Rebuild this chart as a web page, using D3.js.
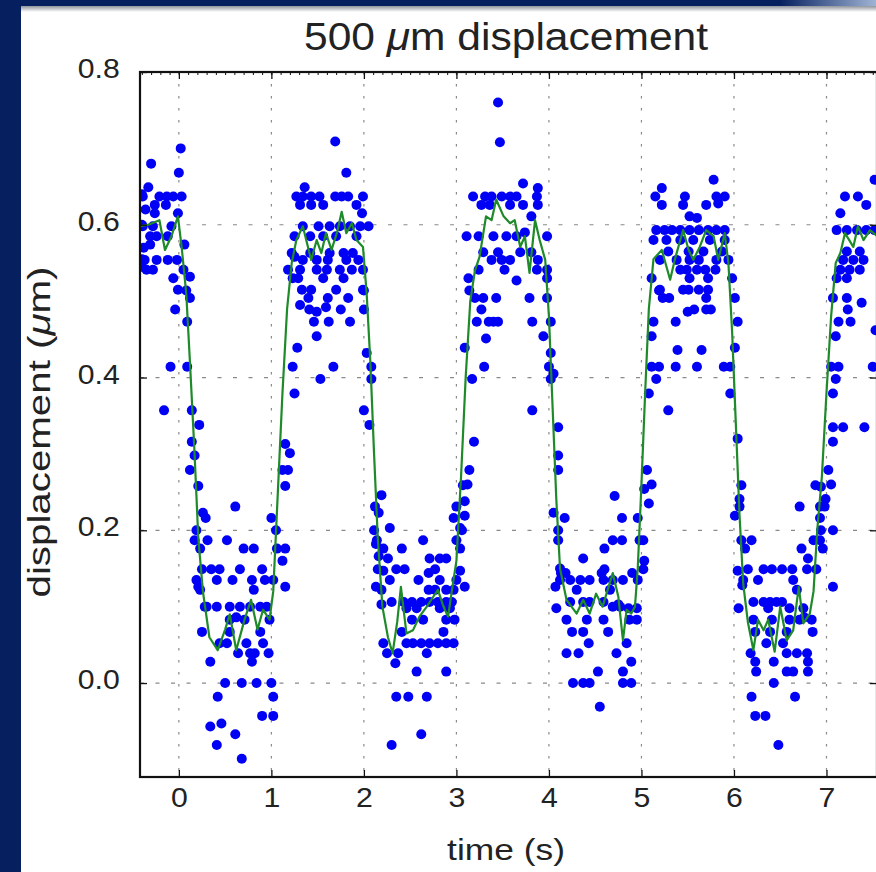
<!DOCTYPE html>
<html>
<head>
<meta charset="utf-8">
<script src="https://cdn.jsdelivr.net/npm/d3@7"></script>
<style>
  html, body { margin: 0; padding: 0; background: #06205f; }
  svg { display: block; }
  text { font-family: "Liberation Sans", Arial, sans-serif; fill: #222; }
</style>
</head>
<body>
<svg id="chart" width="876" height="872"></svg>
<script>
// axis ticks and labels
const xTicks = [0, 1, 2, 3, 4, 5, 6, 7];
const yTicks = [0.0, 0.2, 0.4, 0.6, 0.8];
const xLimits = [-0.42, 7.546];
const yLimits = [-0.123, 0.8];
const titleText = ["500 ", "\u03bc", "m displacement"];
const yLabelText = ["displacement (", "\u03bc", "m)"];
const xLabelText = "time (s)";

// measured displacement samples [time s, displacement um], read per cycle
const cycle1Dots = [
  [-0.30,0.68],[0.02,0.70],[0.00,0.668],[-0.33,0.649],[-0.39,0.637],[-0.21,0.637],[-0.13,0.637],[-0.06,0.637],
  [0.03,0.637],[-0.40,0.64],[-0.26,0.626],[-0.14,0.626],[-0.36,0.62],[-0.26,0.615],[-0.01,0.615],[-0.39,0.598],
  [-0.28,0.598],[-0.08,0.598],[-0.40,0.60],[-0.31,0.585],[-0.24,0.585],[-0.12,0.585],[-0.31,0.574],[0.06,0.574],
  [-0.38,0.57],[-0.37,0.554],[-0.24,0.554],[-0.12,0.554],[-0.02,0.554],[-0.40,0.555],[-0.35,0.541],[-0.28,0.541],
  [0.05,0.541],[-0.40,0.545],[-0.06,0.530],[0.12,0.532],[-0.01,0.515],[0.12,0.504],[0.08,0.514],
  [-0.04,0.489],[0.09,0.473],[-0.09,0.414],[0.09,0.414],[-0.16,0.357],[0.14,0.357],[0.22,0.338],[0.14,0.316],
  [0.17,0.298],[0.12,0.279],[0.26,0.223],[0.19,0.200],[0.21,0.126],
  [0.21,0.258],[0.29,0.216],[0.61,0.231],[0.17,0.187],[0.31,0.187],[0.52,0.187],[0.23,0.176],[0.70,0.176],
  [0.81,0.176],[1.00,0.216],[1.15,0.258],[1.06,0.176],[1.15,0.176],
  [0.25,0.149],[0.35,0.149],[0.44,0.149],[0.66,0.149],[0.90,0.149],
  [0.19,0.135],[0.41,0.135],[0.58,0.135],[0.79,0.135],[0.93,0.135],[1.02,0.135],[0.23,0.122],[0.81,0.122],
  [0.28,0.100],[0.30,0.100],[0.41,0.100],[0.55,0.100],[0.66,0.100],[0.77,0.100],[0.88,0.100],[0.95,0.100],
  [0.55,0.083],[0.71,0.083],[0.98,0.083],[0.62,0.086],[0.25,0.067],[0.55,0.067],[0.88,0.067],
  [0.44,0.052],[0.52,0.052],[0.73,0.052],[0.91,0.052],[0.64,0.039],[0.77,0.039],[0.82,0.039],[0.97,0.039],
  [0.79,0.028],[0.34,0.028],[0.50,0.0],[0.68,0.0],[0.84,0.0],[1.00,0.0],[0.42,-0.018],[1.02,-0.018],
  [0.90,-0.043],[1.02,-0.043],[0.34,-0.057],[0.46,-0.053],[0.61,-0.067],[0.41,-0.081],[0.68,-0.099],
  [1.05,0.200],[1.12,0.160],[1.15,0.126],[1.12,0.279],[1.18,0.279],[1.20,0.301],[1.15,0.313],[1.23,0.414],
  [1.25,0.379],[1.28,0.439],[1.23,0.530],[1.25,0.558]
];

const cycle2Dots = [
  [1.69,0.709],[1.81,0.668],[1.36,0.649],
  [1.27,0.637],[1.34,0.637],[1.43,0.637],[1.52,0.637],[1.69,0.637],[1.76,0.637],[1.83,0.637],[1.99,0.637],
  [1.31,0.626],[1.43,0.626],[1.56,0.626],[1.92,0.626],[1.98,0.615],
  [1.34,0.598],[1.51,0.598],[1.63,0.598],[1.74,0.598],[1.85,0.598],[1.96,0.598],[2.05,0.598],
  [1.25,0.585],[1.42,0.585],[1.56,0.585],[1.70,0.585],[1.92,0.585],
  [1.22,0.563],[1.42,0.563],[1.63,0.563],[1.78,0.563],[1.88,0.563],
  [1.34,0.554],[1.49,0.554],[1.61,0.554],[1.81,0.554],[1.94,0.554],
  [1.18,0.541],[1.31,0.541],[1.49,0.541],[1.60,0.541],[1.74,0.541],[1.87,0.541],[1.99,0.541],
  [1.29,0.530],[1.56,0.530],[1.78,0.530],[1.33,0.515],[1.43,0.515],[1.70,0.515],[1.99,0.515],
  [1.40,0.504],[1.61,0.504],[1.83,0.504],
  [1.31,0.495],[1.41,0.489],[1.49,0.486],[1.46,0.473],[1.59,0.492],[1.75,0.489],[1.62,0.473],[1.85,0.473],
  [1.49,0.454],[1.67,0.414],[1.53,0.398],[2.00,0.514],[2.00,0.489],
  [2.03,0.432],[2.08,0.414],[2.08,0.398],[2.00,0.357],[2.06,0.338],[2.16,0.223],[2.11,0.200],[2.13,0.182],
  [2.16,0.166],[2.21,0.147],[2.13,0.126],[2.19,0.103],
  [2.70,0.144],[2.19,0.246],[2.12,0.231],[2.28,0.203],[2.14,0.187],[2.21,0.176],[2.26,0.163],[2.15,0.149],
  [2.28,0.135],[2.19,0.122],[2.30,0.106],[2.41,0.176],[2.35,0.149],[2.44,0.149],[2.64,0.187],
  [2.71,0.163],[2.82,0.163],[2.89,0.163],[2.77,0.149],[2.59,0.135],[2.82,0.135],[3.00,0.135],
  [2.70,0.122],[2.77,0.122],[2.89,0.122],[2.97,0.122],
  [2.43,0.106],[2.52,0.106],[2.62,0.106],[2.71,0.106],[2.80,0.106],[2.89,0.106],[2.95,0.106],
  [2.46,0.098],[2.57,0.098],[2.82,0.098],[2.93,0.098],[2.52,0.083],[2.64,0.083],[2.89,0.083],[2.98,0.083],
  [2.41,0.067],[2.86,0.067],
  [2.21,0.052],[2.46,0.052],[2.53,0.052],[2.62,0.052],[2.71,0.052],[2.80,0.052],[2.89,0.052],[2.97,0.052],
  [2.25,0.039],[2.37,0.039],[2.68,0.039],[2.34,0.026],[2.57,0.015],[2.89,0.015],
  [2.35,-0.018],[2.48,-0.018],[2.68,-0.018],[2.62,-0.067],[2.30,-0.081],
  [3.07,0.259],[3.00,0.231],[2.97,0.216],[3.04,0.203],[3.00,0.187],[3.04,0.176],[3.04,0.147],[3.09,0.126],
  [3.06,0.200],[3.09,0.219],[3.09,0.238],[3.12,0.260],[3.14,0.279],[3.19,0.316],[3.17,0.398],[3.09,0.439],
  [3.30,0.414],[3.32,0.451],[3.22,0.473],[3.35,0.473],[3.45,0.473],[3.27,0.489],[3.14,0.514]
];

const cycle3Dots = [
  [3.45,0.760],[3.47,0.708],[3.72,0.654],[3.88,0.648],[3.87,0.637],
  [3.18,0.637],[3.31,0.637],[3.38,0.637],[3.49,0.637],[3.58,0.637],[3.65,0.637],
  [3.27,0.626],[3.36,0.626],[3.58,0.626],[3.72,0.626],[3.88,0.626],[3.81,0.611],
  [3.11,0.585],[3.24,0.585],[3.40,0.585],[3.54,0.585],[3.65,0.585],[3.74,0.590],[3.98,0.585],
  [3.29,0.564],[3.45,0.564],[3.69,0.564],[3.81,0.564],[3.38,0.554],[3.49,0.554],[3.58,0.554],[3.88,0.554],
  [3.24,0.541],[3.52,0.541],[3.87,0.541],[3.98,0.541],[3.65,0.527],[3.13,0.530],[3.98,0.530],
  [3.20,0.504],[3.29,0.504],[3.43,0.504],[3.79,0.504],[3.98,0.504],
  [3.40,0.473],[3.82,0.473],[3.94,0.454],[4.02,0.473],[4.02,0.432],[3.82,0.357],[4.00,0.414],[4.05,0.405],
  [4.02,0.398],
  [4.10,0.335],[4.10,0.298],[4.10,0.279],[4.05,0.223],[4.10,0.200],[4.13,0.144],[4.18,0.144],[4.07,0.126],
  [4.57,0.144],[4.90,0.144],[4.75,0.103],
  [4.17,0.216],[4.10,0.187],[4.12,0.150],[4.37,0.163],[4.12,0.135],[4.23,0.135],[4.34,0.135],[4.44,0.135],
  [4.30,0.122],[4.08,0.098],[4.23,0.106],[4.37,0.106],[4.44,0.106],[4.19,0.083],[4.41,0.083],
  [4.25,0.067],[4.37,0.067],[4.43,0.052],[4.19,0.039],[4.32,0.039],[4.53,0.015],
  [4.26,0.0],[4.37,0.0],[4.44,0.0],[4.55,-0.031],
  [4.71,0.245],[4.79,0.216],[4.96,0.216],[4.69,0.187],[4.79,0.187],[4.60,0.176],[4.98,0.187],[5.02,0.187],
  [4.60,0.149],[5.02,0.149],[4.59,0.135],[4.69,0.135],[4.80,0.135],[4.96,0.135],[4.66,0.122],[4.59,0.106],
  [4.69,0.100],[4.77,0.100],[4.86,0.098],[4.95,0.098],[4.59,0.083],[4.87,0.083],[4.95,0.083],[4.64,0.067],
  [4.84,0.052],[4.73,0.039],[4.89,0.028],[4.80,0.015],[4.80,0.0],[4.89,0.0],
  [5.03,0.254],[5.06,0.279],[5.11,0.260],[5.08,0.235],[5.03,0.160],[5.16,0.398],[5.11,0.414],[5.19,0.414],
  [5.08,0.379],[5.29,0.357],[5.13,0.473],[5.11,0.454],[5.19,0.514]
];

const cycle4Dots = [
  [5.37,0.473],[5.50,0.486],[5.37,0.414],[5.60,0.414],[5.89,0.414],[5.96,0.414],[5.39,0.436],[5.65,0.436],
  [5.57,0.489],[5.70,0.489],[5.75,0.489],[5.96,0.379],[6.04,0.473],[6.01,0.439],
  [5.78,0.659],[5.22,0.648],[5.15,0.637],[5.47,0.637],[5.81,0.637],[5.90,0.637],
  [5.22,0.626],[5.45,0.626],[5.70,0.626],[5.83,0.628],[5.52,0.611],[5.60,0.609],
  [5.16,0.593],[5.25,0.593],[5.33,0.593],[5.42,0.593],[5.52,0.593],[5.62,0.593],[5.72,0.593],[5.81,0.593],
  [5.90,0.593],[5.13,0.580],[5.27,0.580],[5.42,0.580],[5.56,0.580],[5.74,0.580],[5.90,0.580],
  [5.29,0.565],[5.51,0.565],[5.67,0.565],[5.87,0.565],
  [5.20,0.554],[5.38,0.554],[5.52,0.554],[5.62,0.554],[5.81,0.554],[5.94,0.554],
  [5.42,0.541],[5.49,0.541],[5.60,0.541],[5.69,0.541],[5.80,0.541],
  [5.11,0.530],[5.52,0.530],[5.72,0.530],[5.98,0.530],
  [5.20,0.515],[5.45,0.515],[5.51,0.515],[5.62,0.515],[5.72,0.515],[5.23,0.504],[5.30,0.504],[5.70,0.504],
  [6.01,0.504],
  [6.04,0.320],[6.06,0.241],[6.01,0.219],[6.04,0.147],[6.09,0.128],
  [6.08,0.259],[6.06,0.231],[6.71,0.231],[6.88,0.259],[6.93,0.231],[6.98,0.231],[6.93,0.216],[6.08,0.187],
  [6.19,0.187],[6.86,0.187],[6.93,0.187],[6.12,0.176],[6.73,0.176],[6.96,0.176],[6.80,0.163],
  [6.15,0.149],[6.32,0.149],[6.41,0.149],[6.52,0.149],[6.63,0.149],[6.79,0.149],[6.89,0.149],
  [6.10,0.135],[6.26,0.135],[6.64,0.135],[6.68,0.122],
  [6.21,0.106],[6.32,0.106],[6.39,0.106],[6.46,0.106],[6.52,0.106],
  [6.05,0.098],[6.37,0.098],[6.60,0.098],[6.75,0.098],
  [6.21,0.083],[6.41,0.083],[6.60,0.083],[6.71,0.083],[6.84,0.083],
  [6.23,0.067],[6.39,0.067],[6.57,0.067],[6.85,0.067],[6.35,0.052],[6.53,0.052],
  [6.18,0.039],[6.57,0.039],[6.68,0.039],[6.79,0.039],[6.23,0.028],[6.43,0.028],[6.80,0.028],
  [6.24,0.015],[6.57,0.015],[6.64,0.015],[6.80,0.015],
  [6.43,0.0],[6.19,-0.018],[6.66,-0.018],[6.23,-0.043],[6.34,-0.043],[6.48,-0.081],
  [6.94,0.200],[7.07,0.200],[6.99,0.241],[6.94,0.257],[7.05,0.260],[7.02,0.279],[7.07,0.316],[7.07,0.335],
  [7.05,0.414],[7.13,0.414],[7.10,0.398],[7.07,0.379],[7.18,0.335],[7.10,0.454],[7.13,0.473],[7.26,0.473],
  [7.41,0.335],[7.07,0.126],[6.76,0.086]
];

const cycle5Dots = [
  [7.52,0.659],[7.20,0.637],[7.34,0.637],[7.43,0.626],[7.15,0.615],
  [7.11,0.593],[7.22,0.593],[7.33,0.593],[7.43,0.593],[7.52,0.593],[7.22,0.565],[7.36,0.565],
  [7.18,0.554],[7.29,0.554],[7.40,0.554],[7.15,0.541],[7.25,0.541],[7.36,0.541],
  [7.11,0.530],[7.22,0.530],[7.07,0.504],[7.22,0.504],[7.23,0.489],[7.38,0.498],[7.53,0.462],[7.50,0.414]
];

// smoothed trace (green)
const fitLine = [
  [-0.42,0.598],[-0.33,0.600],[-0.21,0.606],[-0.15,0.567],[-0.08,0.585],[-0.01,0.611],[0.03,0.571],[0.08,0.510],
  [0.12,0.420],[0.17,0.300],[0.21,0.190],[0.26,0.120],[0.33,0.060],[0.42,0.043],[0.50,0.070],[0.55,0.090],
  [0.62,0.043],[0.71,0.083],[0.78,0.109],[0.85,0.070],[0.91,0.096],[0.98,0.083],[1.02,0.120],[1.07,0.250],
  [1.12,0.380],[1.17,0.490],[1.22,0.550],[1.27,0.580],[1.34,0.598],[1.43,0.554],[1.49,0.580],[1.54,0.563],
  [1.59,0.589],[1.65,0.567],[1.71,0.590],[1.76,0.617],[1.81,0.589],[1.87,0.602],[1.92,0.580],[1.99,0.571],
  [2.03,0.510],[2.07,0.420],[2.11,0.300],[2.15,0.190],[2.20,0.100],[2.26,0.060],[2.31,0.039],[2.36,0.080],
  [2.40,0.126],[2.46,0.065],[2.53,0.069],[2.60,0.087],[2.68,0.100],[2.75,0.113],[2.80,0.122],[2.86,0.100],
  [2.91,0.087],[2.95,0.120],[3.00,0.160],[3.05,0.270],[3.10,0.400],[3.15,0.500],[3.20,0.540],[3.25,0.558],
  [3.32,0.611],[3.38,0.606],[3.43,0.633],[3.51,0.611],[3.58,0.602],[3.63,0.606],[3.69,0.571],[3.74,0.585],
  [3.79,0.537],[3.85,0.606],[3.90,0.580],[3.96,0.554],[4.00,0.480],[4.04,0.360],[4.08,0.240],[4.12,0.150],
  [4.19,0.109],[4.30,0.091],[4.37,0.109],[4.44,0.091],[4.51,0.117],[4.58,0.100],[4.69,0.144],[4.75,0.113],
  [4.80,0.056],[4.84,0.096],[4.89,0.091],[4.93,0.100],[4.96,0.150],[5.00,0.260],[5.04,0.380],[5.08,0.490],
  [5.13,0.555],[5.22,0.567],[5.31,0.528],[5.36,0.554],[5.45,0.593],[5.51,0.567],[5.56,0.554],[5.63,0.571],
  [5.70,0.593],[5.78,0.585],[5.83,0.554],[5.90,0.589],[5.94,0.550],[5.98,0.460],[6.02,0.340],[6.06,0.220],
  [6.10,0.130],[6.15,0.080],[6.21,0.043],[6.26,0.083],[6.32,0.069],[6.37,0.083],[6.44,0.041],[6.50,0.100],
  [6.57,0.056],[6.64,0.069],[6.70,0.126],[6.75,0.078],[6.82,0.091],[6.86,0.120],[6.90,0.200],[6.95,0.270],
  [7.00,0.380],[7.05,0.480],[7.10,0.550],[7.15,0.563],[7.20,0.589],[7.29,0.571],[7.34,0.598],[7.40,0.580],
  [7.47,0.593],[7.55,0.585]
];

const allDots = cycle1Dots.concat(cycle2Dots, cycle3Dots, cycle4Dots, cycle5Dots);

const width = 876, height = 872;
const margin = { left: 140, top: 72, right: 877, bottom: 777 };
const wide = 1.12; // the source font renders a bit wider than Arial

const svg = d3.select("#chart");

// slide panel + header strip
const defs = svg.append("defs");
const edge = defs.append("linearGradient").attr("id", "edge").attr("x1", 0).attr("x2", 0).attr("y1", 0).attr("y2", 1);
edge.append("stop").attr("offset", "0%").attr("stop-color", "#8f949c");
edge.append("stop").attr("offset", "100%").attr("stop-color", "#ffffff");
const glow = defs.append("linearGradient").attr("id", "glow");
glow.append("stop").attr("offset", "0%").attr("stop-color", "#06205f");
glow.append("stop").attr("offset", "100%").attr("stop-color", "#9fb4d4");

svg.append("rect").attr("x", 0).attr("y", 0).attr("width", width).attr("height", height).attr("fill", "#06205f");
svg.append("rect").attr("x", 780).attr("y", 0).attr("width", 96).attr("height", 7).attr("fill", "url(#glow)");
svg.append("rect").attr("x", 21).attr("y", 6).attr("width", width - 21).attr("height", height - 6).attr("fill", "#fff");
svg.append("rect").attr("x", 21).attr("y", 6).attr("width", width - 21).attr("height", 6).attr("fill", "url(#edge)");

defs.append("clipPath").attr("id", "plotClip")
  .append("rect")
  .attr("x", margin.left).attr("y", margin.top)
  .attr("width", margin.right - margin.left).attr("height", margin.bottom - margin.top);

const x = d3.scaleLinear().domain(xLimits).range([margin.left, margin.right]);
const y = d3.scaleLinear().domain(yLimits).range([margin.bottom, margin.top]);

// dotted grid
const grid = svg.append("g").attr("stroke", "#8a8a8a").attr("stroke-width", 1.2);
grid.selectAll(".vg").data(xTicks).join("line")
  .attr("x1", d => x(d)).attr("x2", d => x(d))
  .attr("y1", margin.top).attr("y2", margin.bottom)
  .attr("stroke-dasharray", "2.5,9.5");
grid.selectAll(".hg").data(yTicks).join("line")
  .attr("x1", margin.left).attr("x2", margin.right)
  .attr("y1", d => y(d)).attr("y2", d => y(d))
  .attr("stroke-dasharray", "4,11.5");

// samples
const plot = svg.append("g").attr("clip-path", "url(#plotClip)");
plot.append("g").selectAll("circle").data(allDots).join("circle")
  .attr("cx", d => x(d[0])).attr("cy", d => y(d[1]))
  .attr("r", 5).attr("fill", "#0000f5");

const line = d3.line().x(d => x(d[0])).y(d => y(d[1]));
plot.append("path").datum(fitLine)
  .attr("d", line)
  .attr("fill", "none").attr("stroke", "#1f8a2a").attr("stroke-width", 2.2)
  .attr("stroke-linejoin", "round");

// axes with inward ticks
const xAxis = svg.append("g").attr("transform", `translate(0,${margin.bottom})`)
  .call(d3.axisBottom(x).tickValues(xTicks).tickFormat(d3.format("d")).tickSize(-7).tickPadding(11));
const xAxisTop = svg.append("g").attr("transform", `translate(0,${margin.top})`)
  .call(d3.axisTop(x).tickValues(xTicks).tickFormat("").tickSize(-7));
const minorTop = svg.append("g").attr("transform", `translate(0,${margin.top})`)
  .call(d3.axisTop(x).tickValues(d3.range(-4, 76).map(i => i / 10)).tickFormat("").tickSize(-3));
const yAxis = svg.append("g").attr("transform", `translate(${margin.left},0)`)
  .call(d3.axisLeft(y).tickValues(yTicks).tickFormat(d3.format(".1f")).tickSize(-7).tickPadding(18));
const yAxisRight = svg.append("g").attr("transform", `translate(${margin.right},0)`)
  .call(d3.axisRight(y).tickValues(yTicks).tickFormat("").tickSize(-7));

[xAxis, xAxisTop, minorTop, yAxis, yAxisRight].forEach(g => {
  g.select(".domain").remove();
  g.selectAll(".tick line").attr("stroke", "#111").attr("stroke-width", 1.3);
});
minorTop.selectAll(".tick line").attr("stroke-width", 1);

xAxis.selectAll("text").attr("font-size", 27).attr("fill", "#222")
  .attr("font-family", "Liberation Sans, Arial, sans-serif")
  .attr("transform", `scale(${wide},1)`);
yAxis.selectAll("text").attr("font-size", 27).attr("fill", "#222")
  .attr("font-family", "Liberation Sans, Arial, sans-serif")
  .attr("y", -3)
  .attr("transform", `scale(${wide},1)`);

// frame
svg.append("rect")
  .attr("x", margin.left).attr("y", margin.top)
  .attr("width", margin.right - margin.left).attr("height", margin.bottom - margin.top)
  .attr("fill", "none").attr("stroke", "#111").attr("stroke-width", 2.2);

// title
const title = svg.append("g").attr("transform", `translate(506,50) scale(${wide},1)`)
  .append("text").attr("text-anchor", "middle").attr("font-size", 38);
title.append("tspan").text(titleText[0]);
title.append("tspan").attr("font-style", "italic").text(titleText[1]);
title.append("tspan").text(titleText[2]);

// axis labels
svg.append("g").attr("transform", "translate(506,860) scale(1.22,1)")
  .append("text").attr("text-anchor", "middle").attr("font-size", 29).text(xLabelText);

const yl = svg.append("g").attr("transform", "translate(50,432) rotate(-90) scale(1.3,1)")
  .append("text").attr("text-anchor", "middle").attr("font-size", 31);
yl.append("tspan").text(yLabelText[0]);
yl.append("tspan").attr("font-style", "italic").text(yLabelText[1]);
yl.append("tspan").text(yLabelText[2]);
</script>
</body>
</html>
